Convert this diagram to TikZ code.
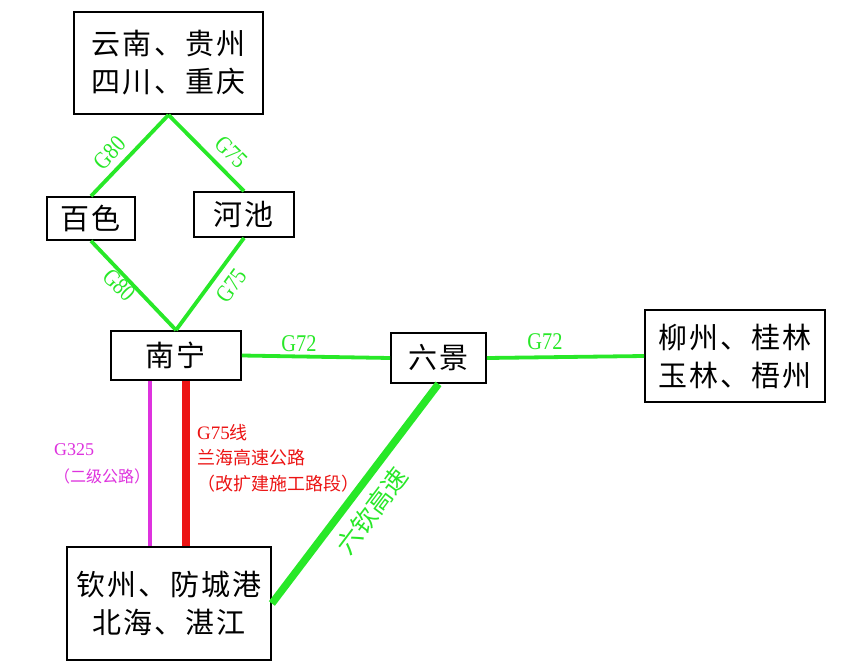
\documentclass[tikz,border=0pt]{standalone}
\usepackage{fontspec}
\newfontfamily\cjk{Noto Sans CJK SC}
\newfontfamily\cjkbox[LetterSpace=7]{Noto Sans CJK SC}
\newfontfamily\lat{Liberation Serif}
\newfontfamily\latn[FakeStretch=0.85]{Liberation Serif}
\usetikzlibrary{calc}
\definecolor{grn}{RGB}{40,232,40}
\definecolor{mag}{RGB}{222,50,222}
\definecolor{rd}{RGB}{236,20,20}
\begin{document}
\begin{tikzpicture}[x=1pt,y=-1pt,
  city/.style={draw=black,line width=1.8pt,inner sep=0pt,align=center,font=\cjkbox\fontsize{29}{38}\selectfont},
  road/.style={grn,line width=3.8pt},
  thickroad/.style={grn,line width=7.5pt},
  glabel/.style={text=grn,inner sep=0pt,font=\latn\fontsize{24}{24}\selectfont}]
\useasboundingbox (0,0) rectangle (861,669);
\fill[white] (0,0) rectangle (861,669);
\node[city,minimum width=189pt,minimum height=102pt] (top) at (168.5,63) {云南、贵州\\四川、重庆};
\node[city,minimum width=88pt,minimum height=43pt] (baise) at (91,218.5) {百色};
\node[city,minimum width=100pt,minimum height=45pt] (hechi) at (244,214.5) {河池};
\node[city,minimum width=130pt,minimum height=49pt] (nanning) at (176,355.5) {南宁};
\node[city,minimum width=95pt,minimum height=50pt] (liujing) at (438.5,358) {六景};
\node[city,minimum width=180pt,minimum height=92pt] (liuzhou) at (735,356) {柳州、桂林\\玉林、梧州};
\node[city,minimum width=204pt,minimum height=113pt] (qinzhou) at (169,603.5) {钦州、防城港\\北海、湛江};
\coordinate (xm) at (150,0);
\coordinate (xr) at (186,0);
% connectors
\draw[road] (top.south) -- (baise.north);
\draw[road] (top.south) -- (hechi.north);
\draw[road] (baise.south) -- (nanning.north);
\draw[road] (hechi.south) -- (nanning.north);
\draw[road] (nanning.east) -- (liujing.west);
\draw[road] (liujing.east) -- (liuzhou.west);
\draw[mag,line width=3.5pt] (nanning.south -| xm) -- (qinzhou.north -| xm);
\draw[rd,line width=7.5pt] (nanning.south -| xr) -- (qinzhou.north -| xr);
\draw[thickroad] (liujing.south) -- (qinzhou.east);
% labels
\node[glabel,rotate=47] (l1) at (110,153) {G80};
\node[glabel,rotate=-45] (l2) at (231,152) {G75};
\node[glabel,rotate=-45] (l3) at (119,285) {G80};
\node[glabel,rotate=54] (l4) at (231,286) {G75};
\node[glabel] (l5) at (299,344) {G72};
\node[glabel] (l6) at (545,342) {G72};
\node[text=mag,anchor=west,align=left,inner sep=0pt,font=\cjk\fontsize{16}{27}\selectfont] (l7) at (54,464) {{\lat\fontsize{18}{18}\selectfont G325}\\（二级公路）};
\node[text=rd,anchor=west,align=left,inner sep=0pt,font=\cjk\fontsize{18}{25.5}\selectfont] (l8) at (197,458) {{\lat\fontsize{19}{19}\selectfont G75}线\\兰海高速公路\\（改扩建施工路段）};
\node[text=grn,rotate=53,inner sep=0pt,font=\cjk\fontsize{25}{25}\selectfont] (l9) at (372,511) {六钦高速};
\end{tikzpicture}
\end{document}
